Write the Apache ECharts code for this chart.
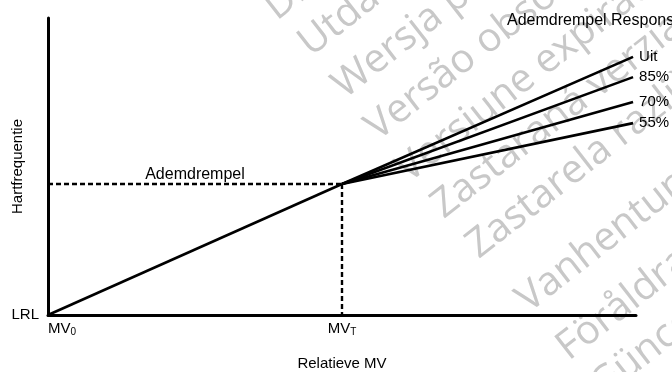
<!DOCTYPE html>
<html>
<head>
<meta charset="utf-8">
<script src="https://cdn.jsdelivr.net/npm/echarts@6/dist/echarts.min.js"></script>
<style>
  html, body { margin: 0; padding: 0; background: #fff; }
  #chart { width: 672px; height: 372px; }
</style>
</head>
<body>
<div id="chart"></div>
<script>
// Minute ventilation positions (relative): MV0, MVT and end of the plotted range
const mvTicks = [0, 1];
const mvTickLabels = ['MV{sub|0}', 'MV{sub|T}'];
const mvEnd = 1.99;

// Heart rate (relative scale, LRL = 0)
const hrLRL = 0;
const hrThreshold = 44.1;

// Response above the ventilatory threshold per setting
const responseNames = ['Uit', '85%', '70%', '55%'];
const responseEndValues = [86.9, 80.1, 71.7, 64.6];

// Notices laid diagonally behind the diagram
const noticeTexts = [
  'Dit is een verouderde versie. Niet gebruiken.',
  'Utdatert versjon. Skal ikke brukes.',
  'Wersja przeterminowana. Nie używać.',
  'Versão obsoleta. Não utilize.',
  'Versiune expirată. A nu se utiliza.',
  'Zastaraná verzia. Nepoužívať.',
  'Zastarela različica. Ne uporabite.',
  'Vanhentunut versio. Älä käytä.',
  'Föråldrad version. Använd ej.',
  'Güncel olmayan sürüm. Kullanmayın.'
];
const noticeAnchors = [
  [282, 28], [316, 64], [350, 106], [383, 148], [414, 190],
  [449, 226], [484, 266], [534, 320], [574, 368], [608, 406]
];

const FONT = '"Liberation Sans", Arial, Helvetica, sans-serif';

const chart = echarts.init(document.getElementById('chart'), null, { renderer: 'canvas' });

const solid = { color: '#000', width: 2.6, type: 'solid' };
const dashed = { color: '#000', width: 2.4, type: [5, 3] };

const series = [];

// Rising segment from LRL up to the ventilatory threshold
series.push({
  type: 'line', symbol: 'none', silent: true, z: 3,
  lineStyle: solid,
  data: [[mvTicks[0], hrLRL], [mvTicks[1], hrThreshold]]
});

// Threshold guides
series.push({
  type: 'line', symbol: 'none', silent: true, z: 2,
  lineStyle: dashed,
  data: [[mvTicks[0], hrThreshold], [mvTicks[1], hrThreshold]]
});
series.push({
  type: 'line', symbol: 'none', silent: true, z: 2,
  lineStyle: dashed,
  data: [[mvTicks[1], hrThreshold], [mvTicks[1], hrLRL]]
});

// Fan of response lines beyond the threshold
responseNames.forEach(function (name, i) {
  series.push({
    name: name,
    type: 'line', symbol: 'none', silent: true, z: 3,
    lineStyle: solid,
    data: [[mvTicks[1], hrThreshold], [mvEnd, responseEndValues[i]]],
    endLabel: {
      show: true,
      formatter: name,
      color: '#000',
      fontFamily: FONT,
      fontSize: 15,
      distance: 6
    }
  });
});

const graphics = noticeTexts.map(function (t, i) {
  return {
    type: 'text',
    x: noticeAnchors[i][0],
    y: noticeAnchors[i][1],
    rotation: 38 * Math.PI / 180,
    silent: true,
    z: -10,
    style: {
      text: t,
      fill: '#c8c8c8',
      font: '40px "Open Sans", "DejaVu Sans", sans-serif',
      textAlign: 'left',
      textVerticalAlign: 'bottom'
    }
  };
});

graphics.push({
  type: 'text',
  x: 507, y: 21,
  z: 10,
  style: {
    text: 'Ademdrempel Response',
    fill: '#000',
    font: '16px ' + FONT,
    textAlign: 'left',
    textVerticalAlign: 'middle'
  }
});
graphics.push({
  type: 'text',
  x: 195, y: 175,
  z: 10,
  style: {
    text: 'Ademdrempel',
    fill: '#000',
    font: '16px ' + FONT,
    textAlign: 'center',
    textVerticalAlign: 'middle'
  }
});

chart.setOption({
  animation: false,
  backgroundColor: '#fff',
  grid: { left: 48, right: 36, top: 18, bottom: 57, containLabel: false, outerBoundsMode: 'none' },
  graphic: graphics,
  xAxis: {
    type: 'value',
    min: 0, max: 2, interval: 1,
    name: 'Relatieve MV',
    nameLocation: 'middle',
    nameGap: 41,
    nameMoveOverlap: false,
    nameTextStyle: { color: '#000', fontFamily: FONT, fontSize: 15 },
    axisLine: { show: true, onZero: false, lineStyle: { color: '#000', width: 3 } },
    axisTick: { show: false },
    splitLine: { show: false },
    axisLabel: {
      color: '#000', fontFamily: FONT, fontSize: 15, margin: 6,
      alignMinLabel: 'left',
      showMaxLabel: false,
      formatter: function (v) {
        const k = mvTicks.indexOf(v);
        return k >= 0 ? mvTickLabels[k] : '';
      },
      rich: {
        sub: { fontFamily: FONT, fontSize: 10, verticalAlign: 'bottom', padding: [6, 0, 0, 0], color: '#000' }
      }
    }
  },
  yAxis: {
    type: 'value',
    min: 0, max: 100, interval: 100,
    name: 'Hartfrequentie',
    nameLocation: 'middle',
    nameGap: 23,
    nameMoveOverlap: false,
    nameTextStyle: { color: '#000', fontFamily: FONT, fontSize: 15 },
    axisLine: { show: true, onZero: false, lineStyle: { color: '#000', width: 3 } },
    axisTick: { show: false },
    splitLine: { show: false },
    axisLabel: {
      color: '#000', fontFamily: FONT, fontSize: 15, margin: 9,
      formatter: function (v) { return v === hrLRL ? 'LRL' : ''; }
    }
  },
  series: series
});
</script>
</body>
</html>
